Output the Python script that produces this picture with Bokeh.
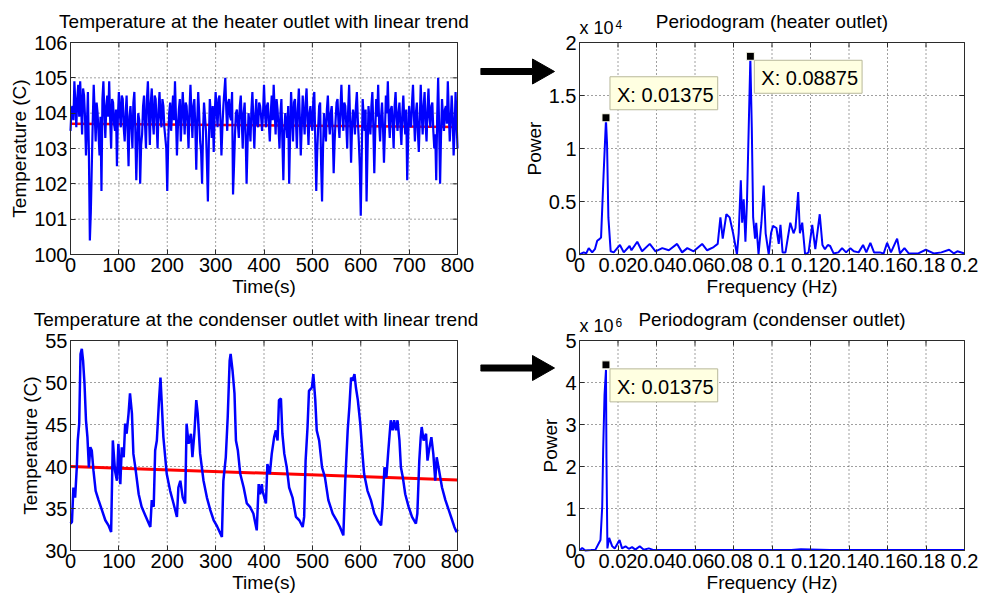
from bokeh.plotting import figure
from bokeh.layouts import column, row
from bokeh.models import (FixedTicker, Label, PolyAnnotation, BoxAnnotation,
                          PrintfTickFormatter, Range1d)
from bokeh.embed import file_html
from bokeh.resources import INLINE

FONT = "Liberation Sans"

# ---------------- data ----------------
heater_time = list(range(0, 801, 2))
heater_temp = [
    103.5, 104.1, 104.2, 103.8, 104.9, 104.3, 103.6, 104.4, 104.8, 103.9, 104.9, 104.2, 103.4, 104.7, 104.5, 103.9, 102.8, 103.7, 104.6, 102.9,
    100.4, 101.2, 102.5, 103.8, 104.8, 104.0, 103.2, 104.3, 104.0, 103.4, 102.8, 103.9, 101.8, 104.4, 104.9, 104.0, 103.3, 104.2, 104.5, 103.9,
    104.9, 103.8, 103.0, 104.4, 104.3, 103.7, 103.5, 104.1, 102.5, 103.9, 104.6, 104.0, 103.6, 104.5, 104.4, 103.6, 103.2, 104.0, 104.5, 103.5,
    102.5, 103.9, 104.2, 103.6, 103.0, 104.3, 104.6, 103.5, 102.1, 103.2, 104.0, 103.8, 102.0, 103.1, 103.4, 104.2, 104.5, 103.7, 103.0, 104.4,
    104.9, 104.0, 103.1, 104.3, 104.7, 103.8, 103.4, 104.5, 104.4, 103.7, 103.0, 104.1, 104.6, 103.9, 103.6, 104.4, 104.2, 103.6, 103.3, 103.0,
    101.8, 103.2, 104.0, 104.3, 103.5, 104.0, 104.5, 103.8, 104.9, 103.9, 102.8, 103.6, 104.1, 104.4, 103.2, 103.9, 104.6, 104.0, 103.4, 104.3,
    104.2, 103.7, 103.0, 104.1, 104.8, 104.0, 103.3, 104.2, 104.4, 103.6, 102.4, 103.8, 104.6, 104.0, 103.2, 102.9, 102.0, 103.5, 104.3, 103.9,
    103.5, 102.6, 101.5, 103.2, 104.4, 104.0, 103.3, 104.2, 102.9, 103.9, 104.6, 104.1, 103.6, 104.4, 104.5, 103.8, 102.8, 103.6, 104.2, 104.6,
    105.0, 104.1, 103.5, 104.3, 104.4, 103.9, 103.8, 104.6, 101.7, 102.5, 103.4, 104.0, 104.1, 103.7, 103.3, 104.2, 104.5, 103.8, 103.0, 104.0,
    104.3, 103.4, 102.0, 103.1, 104.0, 103.7, 103.2, 104.1, 104.6, 103.8, 103.0, 103.9, 104.4, 103.7, 103.6, 104.3, 104.2, 103.9, 103.5, 104.0,
    104.8, 104.0, 103.6, 104.2, 104.3, 103.7, 103.2, 104.0, 104.5, 103.8, 104.8, 104.1, 103.4, 104.4, 104.1, 103.6, 103.0, 104.0, 104.4, 103.2,
    102.1, 103.5, 104.0, 103.7, 103.3, 104.2, 102.0, 103.4, 104.6, 103.9, 103.2, 104.3, 104.4, 103.8, 103.0, 104.1, 104.7, 103.9, 102.8, 103.6,
    104.5, 103.9, 103.4, 104.3, 104.7, 103.8, 103.1, 104.0, 104.2, 103.7, 103.5, 104.4, 104.6, 103.2, 101.8, 102.9, 103.6, 104.2, 104.3, 102.6,
    101.5, 103.0, 104.0, 103.6, 103.2, 104.1, 104.5, 103.8, 103.4, 104.0, 104.2, 103.5, 102.3, 103.2, 103.8, 104.3, 104.4, 103.7, 103.3, 104.1,
    104.8, 104.0, 103.5, 104.3, 104.2, 103.7, 103.0, 104.1, 104.8, 103.8, 102.6, 103.6, 104.1, 103.9, 103.4, 104.2, 104.6, 103.8, 103.2, 102.5,
    101.1, 102.8, 104.4, 103.9, 103.5, 104.1, 101.5, 102.9, 104.2, 103.8, 103.4, 104.2, 104.6, 103.6, 102.3, 103.5, 104.4, 103.9, 104.8, 103.7,
    103.2, 103.9, 104.3, 103.6, 102.6, 103.5, 104.5, 104.0, 104.9, 103.8, 103.3, 104.1, 104.2, 103.7, 103.0, 104.2, 104.6, 103.9, 103.5, 104.0,
    104.3, 103.6, 103.1, 104.0, 104.5, 103.8, 103.4, 104.1, 102.1, 103.3, 104.2, 103.7, 103.6, 104.3, 104.8, 103.9, 103.2, 104.0, 104.3, 103.5,
    102.9, 103.8, 104.8, 104.0, 103.4, 104.2, 104.6, 103.7, 103.2, 104.1, 104.7, 103.9, 103.6, 104.2, 104.3, 103.5, 103.0, 103.4, 102.1, 103.9,
    105.0, 103.6, 102.0, 103.4, 104.4, 103.9, 103.5, 104.1, 104.2, 103.7, 104.9, 104.0, 103.2, 103.8, 104.5, 103.9, 102.8, 103.5, 104.6, 103.8,
    103.0,
]
heater_trend_time = [0, 800]
heater_trend = [103.70, 103.61]

cond_time = [0, 3, 6, 9.6, 13, 15, 18, 20.7, 23.4, 26, 29, 32, 35, 38, 41, 44, 47.5, 52, 58,
             65, 72, 78.5, 84, 87.5, 92, 96, 99, 103, 106, 110, 113, 116, 120, 123, 127, 130,
             134, 141, 147, 156, 165, 168, 172, 175, 178.5, 183, 186, 189, 192, 199, 206, 213,
             220, 223, 227, 232, 237, 240, 244, 249, 252, 256, 260, 263, 268, 275, 282, 289,
             296, 302, 313, 316, 321, 325, 329, 331, 335, 339, 342, 346, 351, 358, 364.5, 371,
             378, 385, 389, 392, 395.5, 397, 404, 407, 412, 416, 421, 424.5, 428, 431, 435,
             438, 442, 447, 452, 459, 466, 473, 480, 483, 486, 490, 493, 499, 502, 506, 509,
             514, 520, 526, 533, 542, 550, 557, 564, 568, 573, 576.5, 580, 583, 587, 590, 594,
             599, 603, 607, 614, 621, 628, 635, 642, 645, 649, 653, 657, 662, 666, 669, 673,
             676, 680, 683, 687, 692, 699, 706, 714, 717, 721, 724, 726, 730, 735, 738, 741,
             746, 750, 754, 757, 762, 768, 775, 782, 789, 793.5, 798, 800]
cond_temp = [33.2, 33.4, 37.5, 36.3, 39.9, 43.1, 45.1, 53.4, 54.0, 52.6, 49.8, 45.5, 43.5,
             39.9, 42.3, 41.9, 39.5, 37.1, 36.0, 34.8, 33.6, 33.0, 32.2, 43.1, 39.5, 38.3,
             42.7, 37.9, 42.3, 41.1, 45.1, 43.9, 46.3, 48.7, 46.3, 41.5, 39.9, 36.7, 35.2,
             34.0, 32.8, 36.0, 35.2, 41.9, 43.1, 47.9, 50.6, 47.1, 43.5, 39.1, 37.1, 35.6,
             34.0, 37.5, 38.3, 36.3, 35.6, 45.1, 42.7, 43.9, 41.1, 43.9, 47.9, 46.3, 41.5,
             38.3, 36.3, 34.8, 33.6, 33.0, 31.6, 38.3, 41.1, 45.9, 52.6, 53.4, 51.4, 48.7,
             43.1, 41.9, 39.1, 37.5, 35.6, 35.2, 34.4, 32.4, 37.9, 36.7, 37.9, 37.1, 35.6,
             40.3, 39.1, 41.5, 43.5, 44.3, 43.1, 47.9, 48.1, 43.9, 41.5, 39.9, 37.5, 36.3,
             34.0, 33.6, 32.8, 34.0, 40.7, 44.7, 49.0, 49.4, 51.0, 47.9, 44.3, 43.1, 39.9,
             38.7, 36.0, 34.4, 33.6, 32.8, 31.8, 38.3, 44.3, 47.1, 50.6, 50.2, 51.0, 49.4,
             47.9, 45.1, 41.9, 39.1, 37.1, 36.0, 34.4, 33.6, 33.0, 35.2, 39.9, 38.7, 41.9,
             45.5, 44.3, 45.5, 44.3, 45.5, 43.1, 39.9, 38.7, 36.7, 35.2, 34.0, 33.2, 34.4,
             40.7, 43.5, 44.7, 43.1, 43.9, 40.7, 41.9, 43.5, 41.5, 38.3, 41.1, 39.5, 37.5,
             36.0, 34.8, 33.6, 32.8, 32.2, 32.5]
cond_trend_time = [0, 800]
cond_trend = [40.0, 38.4]

# periodogram of heater outlet (power in units of 10^4)
heater_freq = [0.0, 0.0022, 0.0035, 0.0048, 0.0066, 0.0080, 0.0092, 0.0100, 0.0112, 0.0125,
               0.01375, 0.0143, 0.0150, 0.0162, 0.0178, 0.0210, 0.0230, 0.0260, 0.0270,
               0.0300, 0.0325, 0.0365, 0.0395, 0.0430, 0.0464, 0.0507, 0.0533, 0.0560,
               0.0593, 0.0637, 0.0663, 0.0697, 0.0718, 0.0732, 0.0744, 0.0763, 0.0780,
               0.0798, 0.0818, 0.0827, 0.0838, 0.0845, 0.0853, 0.0862, 0.0870, 0.08875,
               0.0895, 0.0902, 0.0912, 0.0918, 0.0930, 0.0945, 0.0957, 0.0967, 0.0983,
               0.0995, 0.1005, 0.1023, 0.1035, 0.1044, 0.1055, 0.1070, 0.1095, 0.1112,
               0.1122, 0.1136, 0.1145, 0.1157, 0.1172, 0.1190, 0.1209, 0.1225, 0.1248,
               0.1262, 0.1275, 0.1290, 0.1302, 0.1320, 0.1345, 0.1364, 0.1385, 0.1407,
               0.1425, 0.1450, 0.1473, 0.1490, 0.1511, 0.1530, 0.1560, 0.1580, 0.1598,
               0.1618, 0.1650, 0.1665, 0.1688, 0.1710, 0.1760, 0.1799, 0.1840, 0.1880,
               0.1920, 0.1945, 0.1963, 0.2]
heater_power = [0.0, 0.02, 0.01, 0.06, 0.02, 0.05, 0.13, 0.14, 0.16, 0.75,
                1.27, 1.05, 0.35, 0.03, 0.02, 0.09, 0.02, 0.08, 0.04,
                0.12, 0.03, 0.10, 0.03, 0.06, 0.04, 0.10, 0.02, 0.06,
                0.03, 0.10, 0.04, 0.07, 0.10, 0.35, 0.15, 0.38, 0.35,
                0.20, 0.0, 0.20, 0.70, 0.30, 0.52, 0.12, 0.50, 1.85,
                1.20, 0.35, 0.15, 0.30, 0.0, 0.30, 0.65, 0.20, 0.0,
                0.20, 0.27, 0.25, 0.10, 0.28, 0.02, 0.02, 0.30, 0.20,
                0.25, 0.59, 0.20, 0.30, 0.0, 0.02, 0.28, 0.05, 0.38,
                0.09, 0.05, 0.09, 0.08, 0.01, 0.02, 0.06, 0.02, 0.06,
                0.03, 0.02, 0.09, 0.02, 0.11, 0.02, 0.02, 0.01, 0.11,
                0.02, 0.15, 0.01, 0.06, 0.01, 0.01, 0.045, 0.01, 0.02,
                0.045, 0.01, 0.03, 0.01]
heater_peak_freq = [0.01375, 0.08875]
heater_peak_power = [1.29, 1.87]
heater_peak_text = ["X: 0.01375", "X: 0.08875"]

# periodogram of condenser outlet (power in units of 10^6)
cond_freq = [0.0, 0.0014, 0.0030, 0.0060, 0.0083, 0.0109, 0.0118, 0.0123, 0.0130, 0.01375,
             0.0140, 0.0145, 0.0154, 0.0170, 0.0183, 0.0208, 0.0221, 0.0239, 0.0256,
             0.0273, 0.0290, 0.0313, 0.0334, 0.0360, 0.0386, 0.0500, 0.0700, 0.0900,
             0.1100, 0.1150, 0.1300, 0.1500, 0.1700, 0.2]
cond_power = [0.0, 0.06, 0.0, 0.01, 0.02, 0.25, 1.05, 2.4, 3.7, 4.3,
              2.2, 0.05, 0.30, 0.10, 0.05, 0.25, 0.05, 0.10, 0.04,
              0.08, 0.02, 0.10, 0.02, 0.05, 0.01, 0.01, 0.01, 0.01,
              0.01, 0.03, 0.01, 0.01, 0.01, 0.01]
cond_peak_freq = [0.01375]
cond_peak_power = [4.42]
cond_peak_text = ["X: 0.01375"]

time_ticks = [0, 100, 200, 300, 400, 500, 600, 700, 800]
heater_temp_ticks = [100, 101, 102, 103, 104, 105, 106]
cond_temp_ticks = [30, 35, 40, 45, 50, 55]
freq_ticks = [0, 0.02, 0.04, 0.06, 0.08, 0.1, 0.12, 0.14, 0.16, 0.18, 0.2]
heater_power_ticks = [0, 0.5, 1, 1.5, 2]
cond_power_ticks = [0, 1, 2, 3, 4, 5]

AX = "#2b2b2b"
TICK_FS = "20px"

# ---------------- layout (pixels) ----------------
W1, W2 = 480, 504
H1, H2 = 297, 300
BOX_L1, BOX_R1 = 70, 457      # time-series plot box, x px in its canvas
BOX_L2, BOX_R2 = 99, 484      # periodogram plot box, x px in its canvas
ROW1_TOP, ROW1_BOT = 42, 254  # plot box, y px in the row's canvas
ROW2_TOP, ROW2_BOT = 43, 253
TICK_LEN = 5


def make_panel(w, h, box, xlim, ylim, xt, yt, xlabel, ylabel, title,
               title_dx=0, xfmt=None):
    """Figure whose frame fills the canvas; axes are pinned to the plot box."""
    bl, br, bt, bb = box
    x0, x1 = xlim
    y0, y1 = ylim
    sx = (br - bl) / (x1 - x0)
    sy = (bb - bt) / (y1 - y0)
    xr = Range1d(x0 - bl / sx, x1 + (w - br) / sx)
    yr = Range1d(y0 - (h - bb) / sy, y1 + bt / sy)
    p = figure(width=w, height=h, x_range=xr, y_range=yr, output_backend="svg",
               toolbar_location=None, min_border=0, background_fill_color="white",
               border_fill_color="white")
    p.outline_line_color = None
    p.grid.visible = False
    p.xaxis.ticker = FixedTicker(ticks=xt)
    p.yaxis.ticker = FixedTicker(ticks=yt)
    if xfmt:
        p.xaxis.formatter = PrintfTickFormatter(format=xfmt)
    p.xaxis.fixed_location = y0
    p.yaxis.fixed_location = x0
    p.xaxis.bounds = (x0, x1)
    p.yaxis.bounds = (y0, y1)
    p.xaxis.axis_label = xlabel
    p.yaxis.axis_label = ylabel
    for ax in p.xaxis + p.yaxis:
        ax.major_tick_in = TICK_LEN
        ax.major_tick_out = 0
        ax.minor_tick_line_color = None
        ax.axis_line_color = AX
        ax.major_tick_line_color = AX
        ax.major_label_text_font = FONT
        ax.major_label_text_font_size = TICK_FS
        ax.major_label_text_color = "black"
        ax.major_label_standoff = 3
        ax.axis_label_text_font = FONT
        ax.axis_label_text_font_size = "19px"
        ax.axis_label_text_font_style = "normal"
        ax.axis_label_text_color = "black"
        ax.axis_label_standoff = 1
    # dotted grid inside the plot box
    gx = [t for t in xt if x0 < t < x1]
    gy = [t for t in yt if y0 < t < y1]
    p.segment(x0=gx, y0=[y0] * len(gx), x1=gx, y1=[y1] * len(gx),
              line_color="black", line_alpha=0.75, line_dash="1 3", line_width=1)
    p.segment(x0=[x0] * len(gy), y0=gy, x1=[x1] * len(gy), y1=gy,
              line_color="black", line_alpha=0.75, line_dash="1 3", line_width=1)
    # tick marks on the top and right sides of the box
    p.segment(x0=xt, y0=[y1] * len(xt), x1=xt, y1=[y1 - TICK_LEN / sy] * len(xt),
              line_color=AX, line_width=1)
    p.segment(x0=[x1] * len(yt), y0=yt, x1=[x1 - TICK_LEN / sx] * len(yt), y1=yt,
              line_color=AX, line_width=1)
    p.add_layout(BoxAnnotation(left=x0, right=x1, bottom=y0, top=y1, fill_color=None,
                               line_color=AX, line_width=1, line_alpha=1))
    # title above the plot box
    p.add_layout(Label(x=(x0 + x1) / 2, y=y1, text=title, x_offset=title_dx, y_offset=11,
                       text_align="center", text_baseline="bottom", text_font=FONT,
                       text_font_size="19px", text_color="black"))
    return p, sx, sy


# top-left: heater outlet temperature
f1, _, _ = make_panel(W1, H1, (BOX_L1, BOX_R1, ROW1_TOP, ROW1_BOT), (0, 800), (100, 106),
                      time_ticks, heater_temp_ticks, "Time(s)", "Temperature (C)",
                      "Temperature at the heater outlet with linear trend")
f1.line(heater_trend_time, heater_trend, line_color="#ff0000", line_width=2.5)
f1.line(heater_time, heater_temp, line_color="#0000ff", line_width=2.2)

# bottom-left: condenser outlet temperature
f3, _, _ = make_panel(W1, H2, (BOX_L1, BOX_R1, ROW2_TOP, ROW2_BOT), (0, 800), (30, 55),
                      time_ticks, cond_temp_ticks, "Time(s)", "Temperature (C)",
                      "Temperature at the condenser outlet with linear trend", title_dx=-8)
f3.line(cond_trend_time, cond_trend, line_color="#ff0000", line_width=3)
f3.line(cond_time, cond_temp, line_color="#0000ff", line_width=2.5)


def periodogram(title, h, top, bot, ymax, yt, freq, power, pf, pp, ptext,
                exp_text, arrow_center_px, tip_offsets):
    p, sx, sy = make_panel(W2, h, (BOX_L2, BOX_R2, top, bot), (0, 0.2), (0, ymax),
                           freq_ticks, yt, "Frequency (Hz)", "Power", title, xfmt="%g")
    p.line(freq, power, line_color="#0000ff", line_width=2)
    p.scatter(pf, pp, marker="square", size=8, fill_color="black",
              line_color="#fffff0", line_width=1)
    for fx, py, t, (ox, oy, base) in zip(pf, pp, ptext, tip_offsets):
        p.add_layout(Label(x=fx, y=py, text=t, x_offset=ox, y_offset=oy,
                           text_align="left", text_baseline=base,
                           text_font=FONT, text_font_size="20px", text_color="black",
                           background_fill_color="#ffffe1", border_line_color="#b8b89a",
                           padding=(7, 4, 7, 4)))
    # "x 10^n" multiplier
    p.add_layout(Label(x=0, y=ymax, text="x 10", x_offset=0, y_offset=5,
                       text_align="left", text_baseline="bottom",
                       text_font=FONT, text_font_size="18px", text_color="black"))
    p.add_layout(Label(x=0, y=ymax, text=exp_text, x_offset=36, y_offset=14,
                       text_align="left", text_baseline="bottom",
                       text_font=FONT, text_font_size="12px", text_color="black"))
    # arrow (pixel geometry relative to the plot box's top-left corner)
    c = arrow_center_px
    px_pts = [(-99, c - 3), (-47, c - 3), (-47, c - 12.5), (-25, c),
              (-47, c + 12.5), (-47, c + 3), (-99, c + 3)]
    xs = [dx / sx for dx, dy in px_pts]
    ys = [ymax - dy / sy for dx, dy in px_pts]
    p.add_layout(PolyAnnotation(xs=xs, ys=ys, fill_color="black", fill_alpha=1,
                                line_color="black", line_alpha=1, line_width=1))
    return p


f2 = periodogram("Periodogram (heater outlet)", H1, ROW1_TOP, ROW1_BOT, 2,
                 heater_power_ticks, heater_freq, heater_power, heater_peak_freq,
                 heater_peak_power, heater_peak_text, "4", 29,
                 [(4, 8, "bottom"), (4, -4, "top")])
f4 = periodogram("Periodogram (condenser outlet)", H2, ROW2_TOP, ROW2_BOT, 5,
                 cond_power_ticks, cond_freq, cond_power, cond_peak_freq,
                 cond_peak_power, cond_peak_text, "6", 27.5,
                 [(4, -4, "top")])

layout = column(row(f1, f2), row(f3, f4))
open("out.html", "w").write(file_html(layout, INLINE))
